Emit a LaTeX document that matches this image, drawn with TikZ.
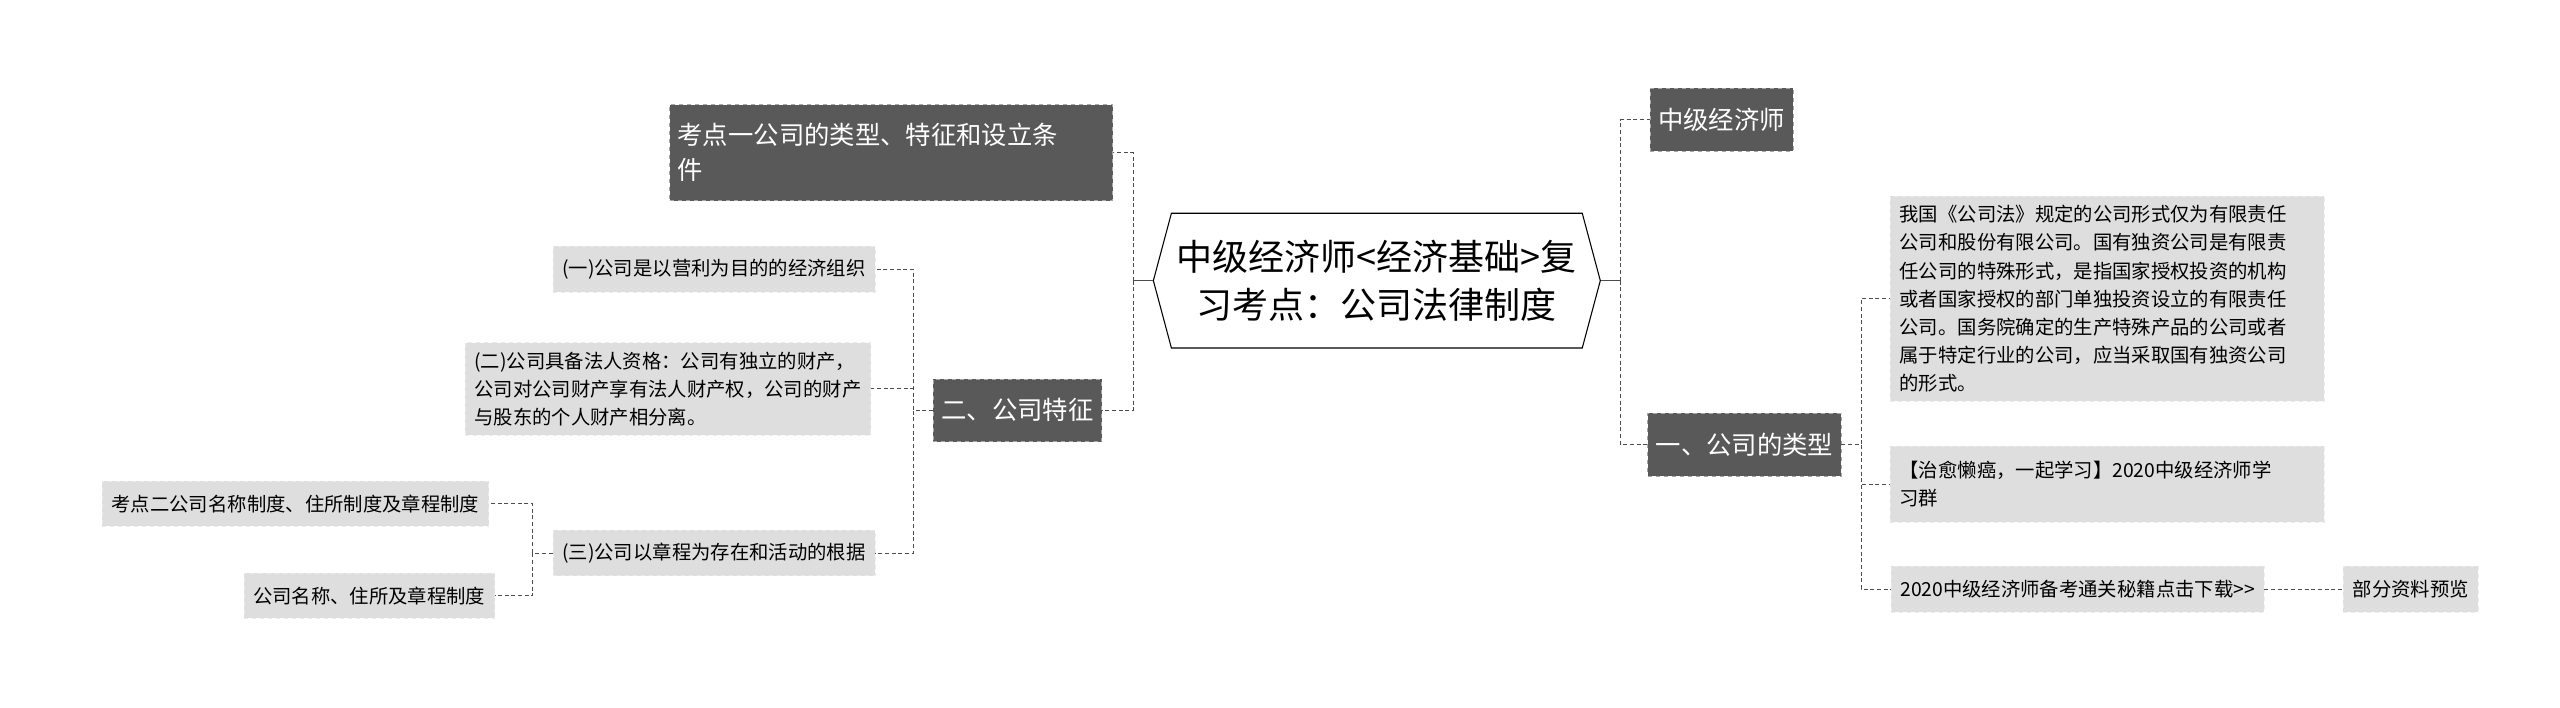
\documentclass[tikz,border=0pt]{standalone}
\usepackage{fontspec}
\setmainfont{Noto Sans CJK SC}
\usetikzlibrary{shapes.symbols}

\tikzset{
  root/.style={draw=black, thick, fill=white, shape=signal, signal to=east and west,
    signal pointer angle=150, minimum width=335pt, minimum height=101pt, align=center,
    font=\fontsize{27}{36}\selectfont, inner xsep=2pt},
  dark/.style={fill=black!65, draw=black!35, dashed, text=white, align=left,
    font=\fontsize{19}{26}\selectfont, inner sep=6pt, minimum height=47pt},
  leaf/.style={fill=black!13, draw=black!8, dashed, align=left,
    font=\fontsize{14.5}{21}\selectfont, inner sep=7pt, minimum height=34pt},
  link/.style={densely dashed, black!70, thick}
}

\begin{document}
\begin{tikzpicture}[x=1.23pt, y=-1.23pt]

\useasboundingbox (0,0) rectangle (1560,431);

% root
\node[root] (root) at (839,171) {中级经济师<经济基础>复\\习考点：公司法律制度};

% right side
\node[dark] (grade) at (1049,73) {中级经济师};
\node[dark] (types) at (1063,271) {一、公司的类型};
\node[leaf, text width=311pt] (law) at (1284,182) {我国《公司法》规定的公司形式仅为有限责任\\公司和股份有限公司。国有独资公司是有限责\\任公司的特殊形式，是指国家授权投资的机构\\或者国家授权的部门单独投资设立的有限责任\\公司。国务院确定的生产特殊产品的公司或者\\属于特定行业的公司，应当采取国有独资公司\\的形式。};
\node[leaf, text width=311pt, minimum height=57pt] (group) at (1284,295) {【治愈懒癌，一起学习】2020中级经济师学\\习群};
\node[leaf] (down) at (1266,359) {2020中级经济师备考通关秘籍点击下载>{}>};
\node[leaf] (view) at (1469,359) {部分资料预览};

% left side
\node[dark, text width=320pt, minimum height=72pt] (point) at (543,93) {考点一公司的类型、特征和设立条\\件};
\node[dark] (feat) at (620,250) {二、公司特征};
\node[leaf] (f1) at (435,164) {(一)公司是以营利为目的的经济组织};
\node[leaf] (f2) at (407,237) {(二)公司具备法人资格：公司有独立的财产，\\公司对公司财产享有法人财产权，公司的财产\\与股东的个人财产相分离。};
\node[leaf] (f3) at (435,337) {(三)公司以章程为存在和活动的根据};
\node[leaf] (n1) at (180,307) {考点二公司名称制度、住所制度及章程制度};
\node[leaf] (n2) at (225,363) {公司名称、住所及章程制度};

% connectors
\draw[black!70, thick] (root.east) -- ++(12,0) coordinate (rb);
\draw[black!70, thick] (root.west) -- ++(-12,0) coordinate (lb);
\foreach \t in {grade, types}
  \draw[link] (rb) |- (\t.west);
\foreach \t in {point, feat}
  \draw[link] (lb) |- (\t.east);
\foreach \t in {law, group, down}
  \draw[link] (types.east) -- ++(12,0) |- (\t.west);
\foreach \t in {f1, f2, f3}
  \draw[link] (feat.west) -- ++(-12,0) |- (\t.east);
\foreach \t in {n1, n2}
  \draw[link] (f3.west) -- ++(-12,0) |- (\t.east);
\draw[link] (down) -- (view);

\end{tikzpicture}
\end{document}
